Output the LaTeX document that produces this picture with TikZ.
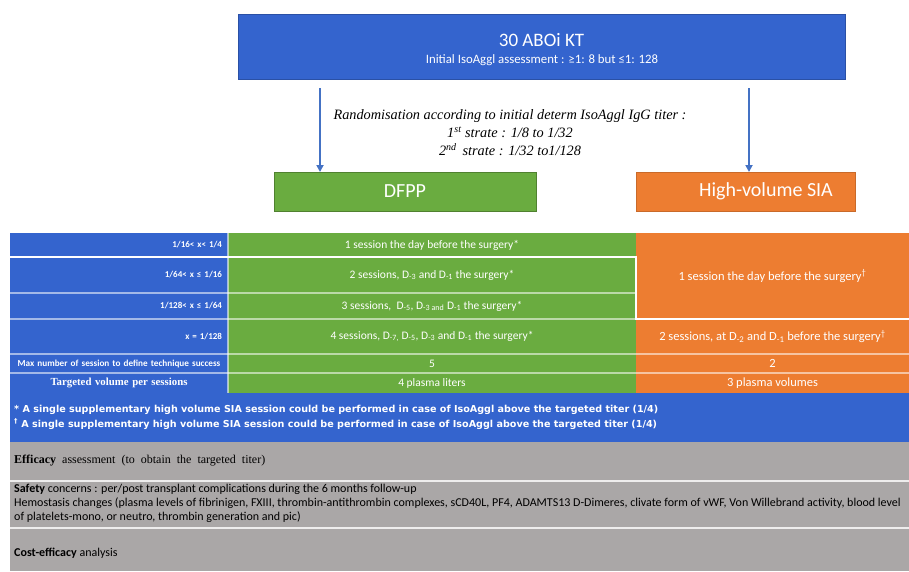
\documentclass[tikz,border=0pt]{standalone}
\usepackage{fontspec}
\setmainfont{Liberation Serif}
\newfontfamily\calfont{Carlito}
\newfontfamily\vfont{DejaVu Sans}
\usetikzlibrary{arrows.meta}
\definecolor{myblue}{RGB}{52,100,206}
\definecolor{arrblue}{RGB}{68,114,196}
\definecolor{mygreen}{RGB}{106,172,64}
\definecolor{myorange}{RGB}{237,125,49}
\definecolor{mygrey}{RGB}{170,167,167}
\begin{document}
\begin{tikzpicture}[x=1pt,y=-1pt,
  arr/.style={draw=arrblue, line width=2pt, -{Triangle[width=7pt,length=7pt]}},
  bigbox/.style={inner sep=0pt, outer sep=0pt, text=white, font=\calfont\fontsize{20}{24}\selectfont},
  cellL/.style={anchor=north west, fill=myblue, text=white, inner xsep=6pt, inner ysep=0pt, outer sep=0pt,
    text width=206pt, align=right, font=\calfont\bfseries\fontsize{9}{10}\selectfont},
  cellG/.style={anchor=north west, fill=mygreen, text=white, inner sep=0pt, outer sep=0pt,
    minimum width=408pt, font=\calfont\fontsize{11.5}{13}\selectfont},
  cellO/.style={anchor=north west, fill=myorange, text=white, inner sep=0pt, outer sep=0pt,
    minimum width=273pt, font=\calfont\fontsize{12.5}{14}\selectfont},
  band/.style={anchor=north west, inner sep=0pt, outer sep=0pt, minimum width=899pt},
  sep/.style={draw=white, draw opacity=0.55, line width=1.2pt},
  thicksep/.style={draw=white, line width=2.5pt}
]
\useasboundingbox[fill=white] (0,0) rectangle (909,571);

% top box
\node[bigbox, fill=myblue, draw=myblue!80!black, minimum width=607pt, minimum height=65pt] (top) at (541.5,46.5) {};
\node[text=white, font=\calfont\fontsize{19}{22}\selectfont] (title) at (541.5,40) {30 ABOi KT};
\node[text=white, font=\calfont\fontsize{12.8}{14}\selectfont] (sub) at (542,60) {Initial IsoAggl assessment : ≥1: 8 but ≤1: 128};

% randomisation text
\node[align=center, font=\itshape\fontsize{14.3}{18}\selectfont] (rand) at (510,133)
  {Randomisation according to initial determ IsoAggl IgG titer :\\
   1\textsuperscript{st} strate : 1/8 to 1/32\\
   2\textsuperscript{nd}\, strate : 1/32 to1/128};

% arms
\node[bigbox, fill=mygreen, draw=mygreen!75!black, minimum width=262pt, minimum height=39pt] (dfpp) at (405,191.5) {DFPP};
\node[bigbox, fill=myorange, draw=myorange!85!black, minimum width=219pt, minimum height=39pt] (hv) at (745.5,191.5) {};
\node[text=white, inner sep=0pt, font=\calfont\fontsize{20}{24}\selectfont] (hvtext) at (766,191.5) {High-volume SIA};

\coordinate (la) at (320,88);
\coordinate (ra) at (749,88);
\draw[arr] (la) -- (la |- dfpp.north);
\draw[arr] (ra) -- (ra |- hv.north);

% table left column
\node[cellL, minimum height=24pt] (r1l) at (10,233) {1/16< x< 1/4};
\node[cellL, minimum height=36pt] (r2l) at (10,257) {1/64< x ≤ 1/16};
\node[cellL, minimum height=26pt] (r3l) at (10,293) {1/128< x ≤ 1/64};
\node[cellL, minimum height=35pt] (r4l) at (10,319) {x = 1/128};
\node[cellL, minimum height=19pt, align=center, inner xsep=1pt, text width=216pt, font=\calfont\bfseries\fontsize{9.2}{10}\selectfont] (r5l) at (10,354) {Max number of session to define technique success};
\node[cellL, minimum height=20pt, align=center, font=\bfseries\fontsize{10.8}{12}\selectfont] (r6l) at (10,373) {Targeted volume per sessions};

% green column
\node[cellG, minimum height=24pt] (r1g) at (228,233) {1 session the day before the surgery*};
\node[cellG, minimum height=36pt] (r2g) at (228,257) {2 sessions, D\textsubscript{-3} and D\textsubscript{-1} the surgery*};
\node[cellG, minimum height=26pt] (r3g) at (228,293) {3 sessions, \ D\textsubscript{-5}, D\textsubscript{-3 and} D\textsubscript{-1} the surgery*};
\node[cellG, minimum height=35pt] (r4g) at (228,319) {4 sessions, D\textsubscript{-7,} D\textsubscript{-5}, D\textsubscript{-3} and D\textsubscript{-1} the surgery*};
\node[cellG, minimum height=19pt] (r5g) at (228,354) {5};
\node[cellG, minimum height=20pt] (r6g) at (228,373) {4 plasma liters};

% orange column
\node[cellO, minimum height=86pt] (o1) at (636,233) {1 session the day before the surgery\textsuperscript{†}};
\node[cellO, minimum height=35pt] (o4) at (636,319) {2 sessions, at D\textsubscript{-2} and D\textsubscript{-1} before the surgery\textsuperscript{†}};
\node[cellO, minimum height=19pt] (o5) at (636,354) {2};
\node[cellO, minimum height=20pt] (o6) at (636,373) {3 plasma volumes};

% separators
\draw[sep] (r3l.north west) -- (r3g.north east);
\draw[sep] (r4l.north west) -- (r4g.north east);
\draw[sep] (r5l.north west) -- (o5.north east);
\draw[sep] (r6l.north west) -- (o6.north east);
\draw[sep] (r1l.north east) -- (r6l.south east);
\draw[thicksep] (r2l.north west) -- (r2g.north east) -- (o1.south west) -- (o1.south east);

% footnote band
\node[band, fill=myblue, minimum height=49pt] (fn) at (10,393) {};
\node[anchor=north west, align=left, text=white, inner sep=0pt, font=\vfont\bfseries\fontsize{9.6}{15}\selectfont] (fntext) at (14,405)
  {* A single supplementary high volume SIA session could be performed in case of IsoAggl above the targeted titer (1/4)\\
   \textsuperscript{†} A single supplementary high volume SIA session could be performed in case of IsoAggl above the targeted titer (1/4)};

% grey bands
\node[band, fill=mygrey, minimum height=39pt] (eff) at (10,442) {};
\node[band, fill=mygrey, minimum height=47pt] (saf) at (10,481) {};
\node[band, fill=mygrey, minimum height=43pt] (cost) at (10,528) {};
\draw[sep, draw opacity=0.8] (saf.north west) -- (saf.north east);
\draw[sep, draw opacity=0.8] (cost.north west) -- (cost.north east);

\node[anchor=west, inner sep=0pt, font=\fontsize{12}{14}\selectfont] (efftext) at (14,461)
  {\textbf{Efficacy} \ assessment \ (to \ obtain \ the \ targeted \ titer)};
\node[anchor=north west, align=left, inner sep=0pt, font=\calfont\fontsize{12}{13.8}\selectfont] (saftext) at (14,484)
  {\textbf{Safety} concerns : per/post transplant complications during the 6 months follow-up\\
   Hemostasis changes (plasma levels of fibrinigen, FXIII, thrombin-antithrombin complexes, sCD40L, PF4, ADAMTS13 D-Dimeres, clivate form of vWF, Von Willebrand activity, blood level\\
   of platelets-mono, or neutro, thrombin generation and pic)};
\node[anchor=west, inner sep=0pt, font=\calfont\fontsize{12}{14}\selectfont] (costtext) at (14,553)
  {\textbf{Cost-efficacy} analysis};
\end{tikzpicture}
\end{document}
